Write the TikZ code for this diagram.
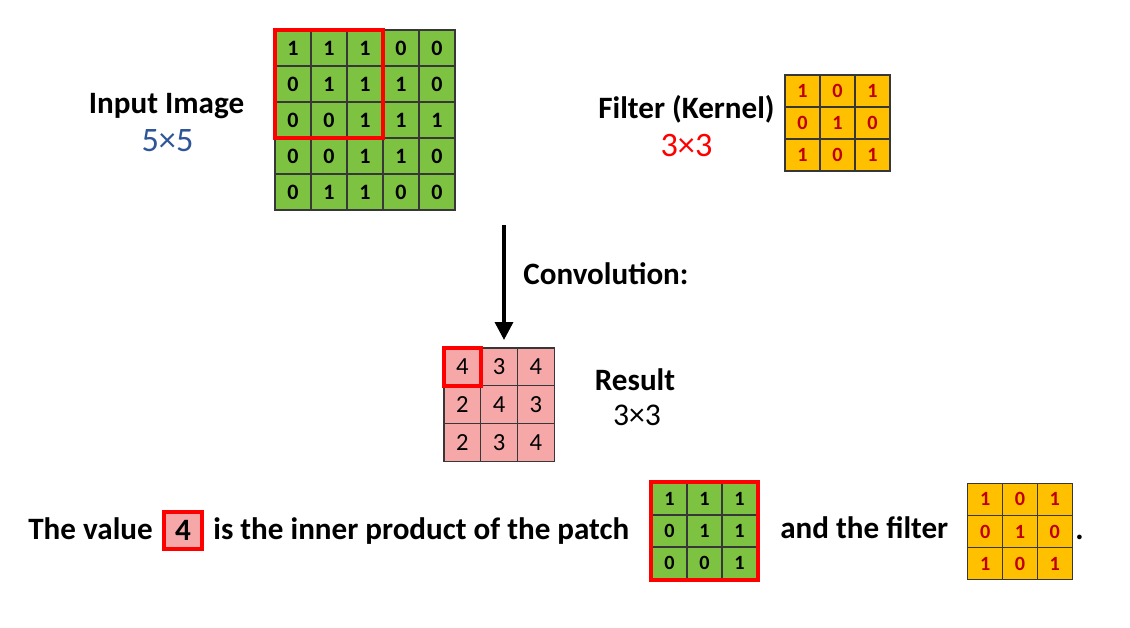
\documentclass[tikz,border=0pt]{standalone}
\usepackage{fontspec}
\setmainfont{Carlito}
\usepackage{tikz}
\usetikzlibrary{arrows.meta, fit}
\definecolor{cellgreen}{RGB}{126,194,66}
\definecolor{cellorange}{RGB}{255,192,0}
\definecolor{cellpink}{RGB}{246,168,168}
\definecolor{kerred}{RGB}{192,0,0}
\definecolor{dimblue}{RGB}{47,85,151}
\definecolor{gridline}{RGB}{55,55,55}
\tikzstyle{cell} = [rectangle, draw=gridline, line width=0.6pt, inner sep=0pt, outer sep=0pt]
\tikzstyle{incell} = [cell, fill=cellgreen, minimum width=0.72cm, minimum height=0.72cm, font=\fontsize{12.5}{13}\selectfont\bfseries]
\tikzstyle{kercell} = [cell, fill=cellorange, minimum width=0.70cm, minimum height=0.64cm, text=kerred, font=\fontsize{11.5}{12}\selectfont\bfseries]
\tikzstyle{patchcell} = [cell, fill=cellgreen, minimum width=0.70cm, minimum height=0.64cm, font=\fontsize{11.5}{12}\selectfont\bfseries]
\tikzstyle{rescell} = [cell, fill=cellpink, minimum width=0.734cm, minimum height=0.754cm, font=\fontsize{14}{15}\selectfont]
\tikzstyle{redbox} = [rectangle, draw=red, line width=2.3pt, inner sep=0pt]
\tikzstyle{heading} = [font=\fontsize{17.7}{20}\selectfont\bfseries, inner sep=0pt]
\tikzstyle{dims} = [font=\fontsize{19.5}{22}\selectfont, inner sep=0pt]
\tikzstyle{arrow} = [line width=2pt, -{Triangle[length=0.36cm, width=0.36cm]}]

\begin{document}
\begin{tikzpicture}[x=0.02cm, y=-0.02cm]
        \useasboundingbox (0,0) rectangle (1130,628);

        % Input image 5x5
        \foreach \row [count=\ri from 0] in {{1,1,1,0,0},{0,1,1,1,0},{0,0,1,1,1},{0,0,1,1,0},{0,1,1,0,0}}
            \foreach \v [count=\ci from 0] in \row
                \node [incell] (in-\ri-\ci) at ({293+36*\ci},{48+36*\ri}) {\v};
        \node [redbox, fit=(in-0-0)(in-2-2)] (inpatch) {};
        \node [heading, anchor=base] (inlabel) at (166.5,114) {Input Image};
        \node [dims, text=dimblue, anchor=base] (insize) at (167.5,152) {5×5};

        % Filter 3x3
        \foreach \row [count=\ri from 0] in {{1,0,1},{0,1,0},{1,0,1}}
            \foreach \v [count=\ci from 0] in \row
                \node [kercell] (ker-\ri-\ci) at ({802.5+35*\ci},{91+32*\ri}) {\v};
        \node [heading, anchor=base] (kerlabel) at (686.5,119) {Filter (Kernel)};
        \node [dims, text=red, anchor=base] (kersize) at (686.5,157) {3×3};

        % Convolution arrow
        \coordinate (convtop) at (504,225);
        \coordinate (convtip) at (504,340);
        \draw [arrow] (convtop) -- (convtip);
        \node [heading, anchor=base west] (convlabel) at (523,285) {Convolution:};

        % Result 3x3
        \foreach \row [count=\ri from 0] in {{4,3,4},{2,4,3},{2,3,4}}
            \foreach \v [count=\ci from 0] in \row
                \node [rescell] (res-\ri-\ci) at ({462.35+36.7*\ci},{366.85+37.7*\ri}) {\v};
        \node [redbox, fit=(res-0-0)] (resfirst) {};
        \node [heading, anchor=base] (reslabel) at (635,391) {Result};
        \node [dims, font=\fontsize{18}{20}\selectfont, anchor=base] (ressize) at (637,425) {3×3};

        % Bottom sentence
        \node [heading, anchor=base west] (txtvalue) at (28,539) {The value};
        \node [redbox, fill=cellpink, minimum width=0.76cm, minimum height=0.74cm, font=\fontsize{17.7}{20}\selectfont\bfseries] (valbox) at (183,530.5) {4};
        \node [heading, anchor=base west] (txtinner) at (213,539) {is the inner product of the patch};
        \foreach \row [count=\ri from 0] in {{1,1,1},{0,1,1},{0,0,1}}
            \foreach \v [count=\ci from 0] in \row
                \node [patchcell] (pat-\ri-\ci) at ({669.5+35*\ci},{499+32*\ri}) {\v};
        \node [redbox, inner sep=0.8pt, fit=(pat-0-0)(pat-2-2)] (patbox) {};
        \node [heading, anchor=base west] (txtfilter) at (780,538) {and the filter};
        \foreach \row [count=\ri from 0] in {{1,0,1},{0,1,0},{1,0,1}}
            \foreach \v [count=\ci from 0] in \row
                \node [kercell] (fil-\ri-\ci) at ({985.35+34.7*\ci},{499.15+32.3*\ri}) {\v};
        \node [heading, anchor=base west] (txtdot) at (1075,539) {.};
    \end{tikzpicture}
\end{document}
